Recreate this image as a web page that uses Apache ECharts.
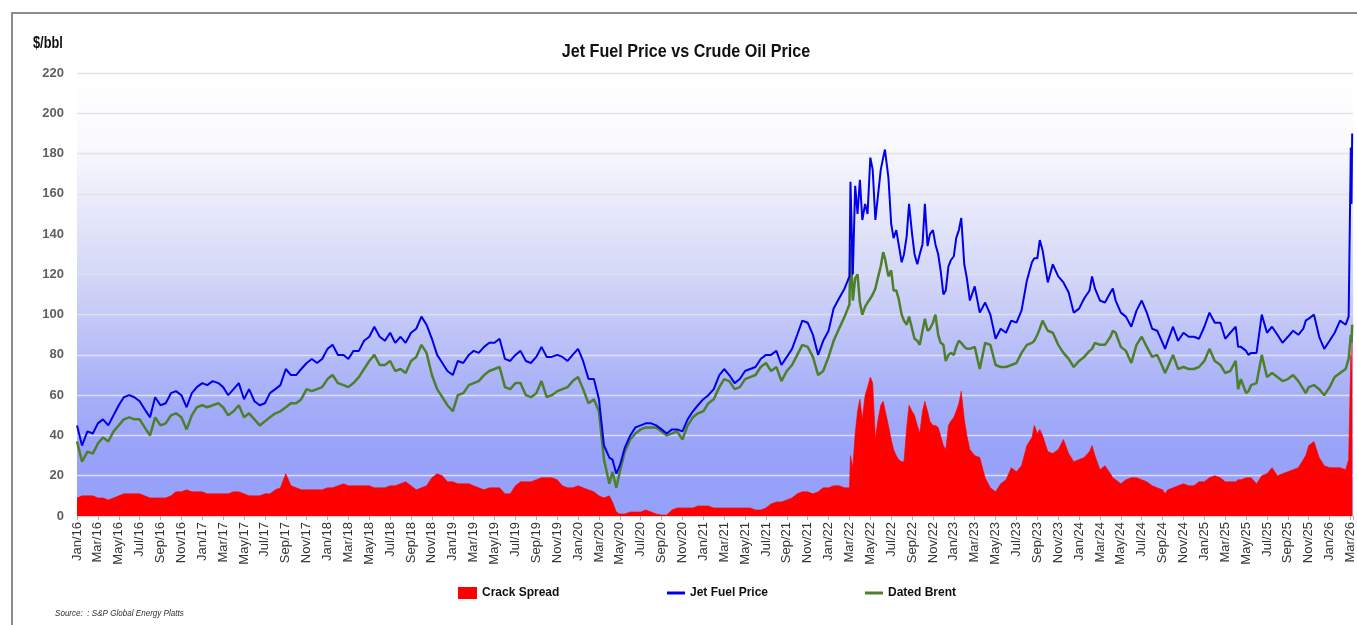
<!DOCTYPE html>
<html><head><meta charset="utf-8">
<script src="https://cdn.jsdelivr.net/npm/echarts@6/dist/echarts.min.js"></script>
<style>html,body{margin:0;padding:0;background:#fff;}#chart{width:1357px;height:625px;}</style>
</head><body><div id="chart"></div>
<script>
// ---- data (weekly/semi-monthly readings, $/bbl) ----
const dates = [
 '2016-01-01','2016-01-16','2016-02-01','2016-02-16','2016-03-01','2016-03-16','2016-04-01','2016-04-16','2016-05-01','2016-05-16','2016-06-01','2016-06-16','2016-07-01','2016-07-16','2016-08-01','2016-08-16','2016-09-01','2016-09-16','2016-10-01','2016-10-16','2016-11-01','2016-11-16','2016-12-01','2016-12-16',
 '2017-01-01','2017-01-16','2017-02-01','2017-02-16','2017-03-01','2017-03-16','2017-04-01','2017-04-16','2017-05-01','2017-05-16','2017-06-01','2017-06-16','2017-07-01','2017-07-16','2017-08-01','2017-08-16','2017-09-01','2017-09-16','2017-10-01','2017-10-16','2017-11-01','2017-11-16','2017-12-01','2017-12-16',
 '2018-01-01','2018-01-16','2018-02-01','2018-02-16','2018-03-01','2018-03-16','2018-04-01','2018-04-16','2018-05-01','2018-05-16','2018-06-01','2018-06-16','2018-07-01','2018-07-16','2018-08-01','2018-08-16','2018-09-01','2018-09-16','2018-10-01','2018-10-16','2018-11-01','2018-11-16','2018-12-01','2018-12-16',
 '2019-01-01','2019-01-16','2019-02-01','2019-02-16','2019-03-01','2019-03-16','2019-04-01','2019-04-16','2019-05-01','2019-05-16','2019-06-01','2019-06-16','2019-07-01','2019-07-16','2019-08-01','2019-08-16','2019-09-01','2019-09-16','2019-10-01','2019-10-16','2019-11-01','2019-11-16','2019-12-01','2019-12-16',
 '2020-01-01','2020-01-16','2020-02-01','2020-02-16','2020-03-01','2020-03-16','2020-04-01','2020-04-10','2020-04-21','2020-05-01','2020-05-16','2020-06-01','2020-06-16','2020-07-01','2020-07-16','2020-08-01','2020-08-16','2020-09-01','2020-09-16','2020-10-01','2020-10-16','2020-11-01','2020-11-16','2020-12-01','2020-12-16',
 '2021-01-01','2021-01-16','2021-02-01','2021-02-16','2021-03-01','2021-03-16','2021-04-01','2021-04-16','2021-05-01','2021-05-16','2021-06-01','2021-06-16','2021-07-01','2021-07-16','2021-08-01','2021-08-16','2021-09-01','2021-09-16','2021-10-01','2021-10-16','2021-11-01','2021-11-16','2021-12-01','2021-12-16',
 '2022-01-01','2022-01-16','2022-02-01','2022-02-16','2022-03-01','2022-03-04','2022-03-11','2022-03-18','2022-03-25','2022-04-01','2022-04-08','2022-04-16','2022-04-23','2022-05-01','2022-05-08','2022-05-16','2022-05-23','2022-06-01','2022-06-08','2022-06-13','2022-06-23','2022-07-01','2022-07-08','2022-07-16','2022-07-23','2022-08-01','2022-08-08','2022-08-16','2022-08-23','2022-09-01','2022-09-08','2022-09-16','2022-09-23','2022-10-01','2022-10-08','2022-10-16','2022-10-23','2022-11-01','2022-11-08','2022-11-16','2022-11-23','2022-12-01','2022-12-08','2022-12-16','2022-12-23',
 '2023-01-01','2023-01-08','2023-01-16','2023-01-23','2023-02-01','2023-02-08','2023-02-16','2023-03-01','2023-03-16','2023-04-01','2023-04-16','2023-05-01','2023-05-16','2023-06-01','2023-06-16','2023-07-01','2023-07-16','2023-08-01','2023-08-16','2023-08-23','2023-09-01','2023-09-08','2023-09-16','2023-10-01','2023-10-16','2023-11-01','2023-11-16','2023-12-01','2023-12-16',
 '2024-01-01','2024-01-16','2024-02-01','2024-02-08','2024-02-16','2024-03-01','2024-03-16','2024-04-01','2024-04-08','2024-04-16','2024-05-01','2024-05-16','2024-06-01','2024-06-16','2024-07-01','2024-07-16','2024-08-01','2024-08-16','2024-09-01','2024-09-08','2024-09-16','2024-10-01','2024-10-16','2024-11-01','2024-11-16','2024-12-01','2024-12-16',
 '2025-01-01','2025-01-16','2025-02-01','2025-02-16','2025-03-01','2025-03-16','2025-04-01','2025-04-08','2025-04-16','2025-05-01','2025-05-08','2025-05-16','2025-06-01','2025-06-16','2025-07-01','2025-07-16','2025-08-01','2025-08-16','2025-09-01','2025-09-16','2025-10-01','2025-10-16','2025-10-23','2025-11-01','2025-11-16','2025-12-01','2025-12-16',
 '2026-01-01','2026-01-16','2026-02-01','2026-02-16','2026-02-24','2026-03-02','2026-03-04','2026-03-06'
];
const jetFuel = [
 45,35,42,41,46,48,45,50,55,59,60,59,57,53,49,59,55,56,61,62,60,54,61,64,
 66,65,67,66,64,60,63,66,58,63,57,55,56,61,63,65,73,70,70,73,76,78,76,78,
 83,85,80,80,78,82,82,87,89,94,89,87,91,86,89,86,91,93,99,95,88,80,76,72,
 70,77,76,80,82,81,84,86,86,88,78,77,80,82,77,76,79,84,79,79,80,79,77,80,
 83,77,68,68,58,35,29,28,21,25,34,40,44,45,46,46,45,43,41,43,43,42,48,52,55,
 58,60,63,70,73,70,66,68,72,73,74,78,80,80,82,75,79,83,90,97,96,90,80,87,
 92,103,108,113,119,166,120,164,150,167,147,155,150,178,172,147,158,172,178,182,168,145,138,142,135,126,130,139,155,140,130,125,130,135,155,134,140,142,135,130,122,110,112,124,127,
 129,138,142,148,125,118,107,114,101,106,100,88,93,91,97,96,102,117,126,128,128,137,132,116,125,119,116,111,101,
 103,108,112,119,113,107,106,111,113,107,101,99,94,102,107,101,93,92,86,83,87,94,87,91,89,89,88,
 94,101,96,96,88,91,94,84,84,82,80,81,81,100,91,94,90,86,89,92,90,93,97,98,100,89,83,
 87,91,97,95,99,183,155,190
];
const datedBrent = [
 37,27,32,31,36,39,37,42,45,48,49,48,48,44,40,49,45,46,50,51,49,43,50,54,
 55,54,55,56,54,50,52,55,49,51,48,45,47,49,51,52,54,56,56,58,63,62,63,64,
 68,70,66,65,64,66,69,73,77,80,75,75,77,72,73,71,77,79,85,81,70,63,59,55,
 52,60,61,65,66,67,70,72,73,74,64,63,66,66,60,59,61,67,59,60,62,63,64,67,
 69,63,56,58,52,28,16,22,14,22,32,38,41,43,44,44,44,42,40,41,42,38,45,49,51,
 52,56,58,64,68,67,63,64,68,69,70,74,76,72,74,67,72,75,80,85,84,79,70,72,
 79,87,93,99,105,135,107,118,120,106,100,104,106,108,110,113,118,124,131,128,119,122,112,112,108,100,97,95,99,93,88,87,85,92,98,92,93,96,100,90,86,85,77,80,81,
 80,84,87,86,84,83,83,84,73,86,85,75,74,74,75,76,81,85,86,87,90,93,97,92,91,85,81,78,74,
 77,79,82,83,86,85,85,89,92,91,84,82,76,85,89,84,79,80,74,71,74,80,73,74,73,73,74,
 77,83,77,75,71,72,77,63,68,61,62,65,66,80,69,71,69,67,68,70,67,63,61,64,65,63,60,
 64,69,71,73,78,90,86,95
];
const crackSpread = [
 9,10,10,10,9,9,8,9,10,11,11,11,11,10,9,9,9,9,10,12,12,13,12,12,
 12,11,11,11,11,11,12,12,11,10,10,10,11,11,13,14,21,15,14,13,13,13,13,13,
 14,14,15,16,15,15,15,15,15,14,14,14,15,15,16,17,15,13,14,15,19,21,20,17,
 17,16,16,16,15,14,13,14,14,14,11,11,15,17,17,17,18,19,19,19,18,15,14,14,
 15,14,13,12,10,9,10,7,2,1,1,2,2,2,3,2,1,0.5,0.5,3,4,4,4,4,5,
 5,5,4,4,4,4,4,4,4,4,3,3,4,6,7,7,8,9,11,12,12,11,12,14,
 14,15,15,14,14,30,24,41,52,58,48,60,64,69,66,38,47,55,57,57,45,38,33,30,28,27,27,44,55,52,50,45,41,52,57,52,47,45,45,44,40,35,33,45,47,
 49,52,56,62,48,40,33,30,29,19,14,12,16,18,24,22,25,35,39,45,41,43,40,32,31,33,38,31,27,
 28,29,32,35,30,23,25,21,19,18,16,18,19,19,18,17,15,14,13,11,13,14,15,16,15,15,17,
 17,19,20,19,17,17,17,18,18,19,19,19,16,20,21,24,20,21,22,23,24,28,30,35,37,29,25,
 24,24,24,23,28,80,68,95
];
const yTicks = [0,20,40,60,80,100,120,140,160,180,200,220];
const monthNames = ['Jan','Feb','Mar','Apr','May','Jun','Jul','Aug','Sep','Oct','Nov','Dec'];
const seriesNames = ['Crack Spread','Jet Fuel Price','Dated Brent'];
const titleText = 'Jet Fuel Price vs Crude Oil Price';
const unitText = '$/bbl';
const sourceText = 'Source:  : S&P Global Energy Platts';

// ---- helpers ----
function monthIndex(s){
  const p = s.split('-').map(Number);
  const dim = new Date(p[0], p[1], 0).getDate();
  return (p[0]-2016)*12 + (p[1]-1) + (p[2]-1)/dim;
}
const xs = dates.map(monthIndex);
const pairs = arr => arr.map((v,i)=>[xs[i], v]);

const sans = "'Liberation Sans',Arial,sans-serif";
const chart = echarts.init(document.getElementById('chart'), null, {renderer:'canvas'});
const bg = new echarts.graphic.LinearGradient(0,0,0,1,[
  {offset:0, color:'#ffffff'},
  {offset:0.15, color:'#fafafe'},
  {offset:0.45, color:'#d5d8f7'},
  {offset:0.72, color:'#a8b0f8'},
  {offset:0.86, color:'#98a2f9'},
  {offset:1, color:'#95a0f9'}
]);
const legendText = {fontSize:12, fontWeight:'bold', fontFamily:sans, color:'#111'};
chart.setOption({
  animation:false,
  backgroundColor:'#ffffff',
  graphic:[
    {type:'rect', shape:{x:12,y:13,width:1420,height:700}, style:{fill:'none', stroke:'#8c8c8c', lineWidth:2}, silent:true, z:-1},
    {type:'text', x:686, y:52, scaleX:0.85, style:{text:titleText, fontSize:19, fontWeight:'bold', fontFamily:sans, fill:'#111', textAlign:'center', textVerticalAlign:'middle'}},
    {type:'text', x:33, y:44, scaleX:0.8, style:{text:unitText, fontSize:16, fontWeight:'bold', fontFamily:sans, fill:'#111', textAlign:'left', textVerticalAlign:'middle'}},
    {type:'text', x:55, y:613, scaleX:0.85, style:{text:sourceText, fontSize:9.5, fontStyle:'italic', fontFamily:sans, fill:'#333', textAlign:'left', textVerticalAlign:'middle'}}
  ],
  legend:[
    {data:[{name:seriesNames[0], icon:'rect'}], left:458, top:587, padding:0, itemWidth:19, itemHeight:12, textStyle:legendText},
    {data:[{name:seriesNames[1], icon:'rect'}], left:667, top:587, padding:0, itemWidth:18, itemHeight:3, textStyle:legendText},
    {data:[{name:seriesNames[2], icon:'rect'}], left:865, top:587, padding:0, itemWidth:18, itemHeight:3, textStyle:legendText}
  ],
  grid:{left:77, right:3, top:73, bottom:109, show:true, backgroundColor:bg, borderWidth:0},
  xAxis:{
    type:'value', min:0, max:122.25, interval:2,
    axisLine:{show:true, lineStyle:{color:'#d6d6d6', width:1}},
    axisTick:{show:true, length:4, lineStyle:{color:'#b0b0b0'}},
    splitLine:{show:false},
    axisLabel:{rotate:90, margin:6, fontSize:13, color:'#333', fontFamily:sans,
      formatter:function(v){
        if (Math.abs(v - Math.round(v)) > 1e-6 || Math.round(v) % 2 !== 0) return '';
        const r = Math.round(v);
        return monthNames[r % 12] + '/' + String(16 + Math.floor(r/12));
      }}
  },
  yAxis:{
    type:'value', min:yTicks[0], max:yTicks[yTicks.length-1], interval:20,
    axisLine:{show:false}, axisTick:{show:false},
    axisLabel:{fontSize:13, fontWeight:'bold', color:'#5f5f5f', margin:13, fontFamily:sans},
    splitLine:{show:true, lineStyle:{color:'rgba(226,226,234,0.95)', width:1.3}}
  },
  series:[
    {name:seriesNames[0], type:'line', data:pairs(crackSpread), showSymbol:false, color:'#ff0000',
      lineStyle:{width:0.6, color:'#ff0000'}, areaStyle:{color:'#ff0000', opacity:1}, z:1},
    {name:seriesNames[1], type:'line', data:pairs(jetFuel), showSymbol:false, color:'#0000ee',
      lineStyle:{width:2, color:'#0000ee'}, z:3},
    {name:seriesNames[2], type:'line', data:pairs(datedBrent), showSymbol:false, color:'#4e7f2c',
      lineStyle:{width:2.5, color:'#4e7f2c'}, z:2}
  ]
});
</script></body></html>
